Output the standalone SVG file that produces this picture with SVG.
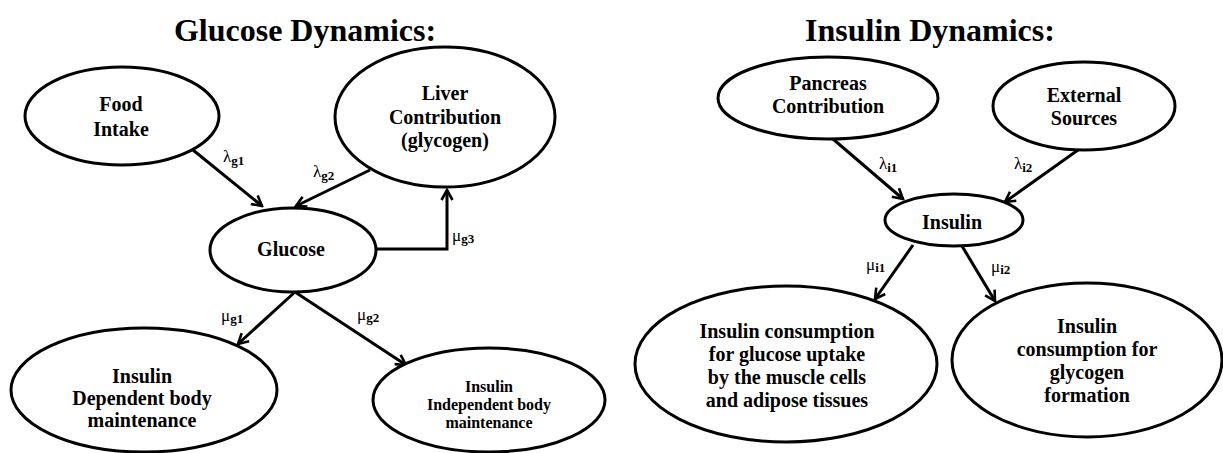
<svg xmlns="http://www.w3.org/2000/svg" width="1223" height="453" viewBox="0 0 1223 453">
<style>
.node{fill:#fff;stroke:#000;stroke-width:3}
.t{font-family:"Liberation Serif","Times New Roman",serif;font-weight:bold;font-size:20px;text-anchor:middle;fill:#000}
.ts{font-family:"Liberation Serif","Times New Roman",serif;font-weight:bold;font-size:16px;text-anchor:middle;fill:#000}
.title{font-family:"Liberation Serif","Times New Roman",serif;font-weight:bold;font-size:32px;text-anchor:middle;fill:#000}
.lbl{font-family:"Liberation Serif","Times New Roman",serif;font-size:17px;fill:#000}
.sub{font-weight:bold;font-size:13px}
.c{fill:none;stroke:#000;stroke-width:3}
</style>
<defs>
<marker id="arr" viewBox="0 0 14 14" refX="12" refY="7" markerWidth="14" markerHeight="14" markerUnits="userSpaceOnUse" orient="auto">
<path d="M2,1.5 L12,7 L2,12.5" fill="none" stroke="#000" stroke-width="2.6"/>
</marker>
</defs>
<rect width="1223" height="453" fill="#fff"/>
<text class="title" x="305" y="41">Glucose Dynamics:</text>
<text class="title" x="930" y="41">Insulin Dynamics:</text>
<g id="connectors">
<line class="c" x1="193" y1="150" x2="262" y2="206" marker-end="url(#arr)"/>
<line class="c" x1="370" y1="170" x2="296" y2="206" marker-end="url(#arr)"/>
<polyline class="c" points="376,249 447,249 447,190" marker-end="url(#arr)"/>
<line class="c" x1="295" y1="292" x2="238" y2="344" marker-end="url(#arr)"/>
<line class="c" x1="295" y1="292" x2="406" y2="365" marker-end="url(#arr)"/>
<line class="c" x1="833" y1="139" x2="903" y2="199" marker-end="url(#arr)"/>
<line class="c" x1="1078" y1="150" x2="1005" y2="202" marker-end="url(#arr)"/>
<line class="c" x1="913" y1="245" x2="875" y2="299" marker-end="url(#arr)"/>
<line class="c" x1="962" y1="246" x2="995" y2="301" marker-end="url(#arr)"/>
<text class="lbl" x="223" y="162">λ<tspan class="sub" dy="3">g1</tspan></text>
<text class="lbl" x="313" y="177">λ<tspan class="sub" dy="3">g2</tspan></text>
<text class="lbl" x="452" y="241">μ<tspan class="sub" dy="2">g3</tspan></text>
<text class="lbl" x="221" y="321">μ<tspan class="sub" dy="2">g1</tspan></text>
<text class="lbl" x="357" y="320">μ<tspan class="sub" dy="2">g2</tspan></text>
<text class="lbl" x="879" y="169">λ<tspan class="sub" dy="3">i1</tspan></text>
<text class="lbl" x="1014" y="169">λ<tspan class="sub" dy="3">i2</tspan></text>
<text class="lbl" x="866" y="270">μ<tspan class="sub" dy="2">i1</tspan></text>
<text class="lbl" x="991" y="272">μ<tspan class="sub" dy="2">i2</tspan></text>
</g>
<g id="food">
<ellipse class="node" cx="122" cy="116" rx="97" ry="49"/>
<text class="t" x="121" y="111">Food</text>
<text class="t" x="121" y="136">Intake</text>
</g>
<g id="liver">
<ellipse class="node" cx="445" cy="117" rx="110" ry="70"/>
<text class="t" x="445" y="100">Liver</text>
<text class="t" x="445" y="124">Contribution</text>
<text class="t" x="445" y="147">(glycogen)</text>
</g>
<g id="glucose">
<ellipse class="node" cx="293" cy="250" rx="83" ry="42"/>
<text class="t" x="291" y="256">Glucose</text>
</g>
<g id="ins-dep">
<ellipse class="node" cx="144" cy="390" rx="133" ry="62"/>
<text class="t" x="142" y="383">Insulin</text>
<text class="t" x="142" y="405">Dependent body</text>
<text class="t" x="142" y="427">maintenance</text>
</g>
<g id="ins-indep">
<ellipse class="node" cx="489" cy="400" rx="116" ry="52"/>
<text class="ts" x="489" y="392">Insulin</text>
<text class="ts" x="489" y="410">Independent body</text>
<text class="ts" x="489" y="428">maintenance</text>
</g>
<g id="pancreas">
<ellipse class="node" cx="828" cy="98" rx="110" ry="41"/>
<text class="t" x="828" y="90">Pancreas</text>
<text class="t" x="828" y="113">Contribution</text>
</g>
<g id="external">
<ellipse class="node" cx="1084" cy="106" rx="91" ry="44"/>
<text class="t" x="1084" y="102">External</text>
<text class="t" x="1084" y="125">Sources</text>
</g>
<g id="insulin">
<ellipse class="node" cx="954" cy="220" rx="69" ry="26"/>
<text class="t" x="952" y="229">Insulin</text>
</g>
<g id="cons-uptake">
<ellipse class="node" cx="786" cy="364" rx="151" ry="78"/>
<text class="t" x="787" y="338">Insulin consumption</text>
<text class="t" x="787" y="361">for glucose uptake</text>
<text class="t" x="787" y="384">by the muscle cells</text>
<text class="t" x="787" y="407">and adipose tissues</text>
</g>
<g id="cons-glycogen">
<ellipse class="node" cx="1087" cy="360" rx="135" ry="77"/>
<text class="t" x="1087" y="333">Insulin</text>
<text class="t" x="1087" y="356">consumption for</text>
<text class="t" x="1087" y="379">glycogen</text>
<text class="t" x="1087" y="402">formation</text>
</g>
</svg>
